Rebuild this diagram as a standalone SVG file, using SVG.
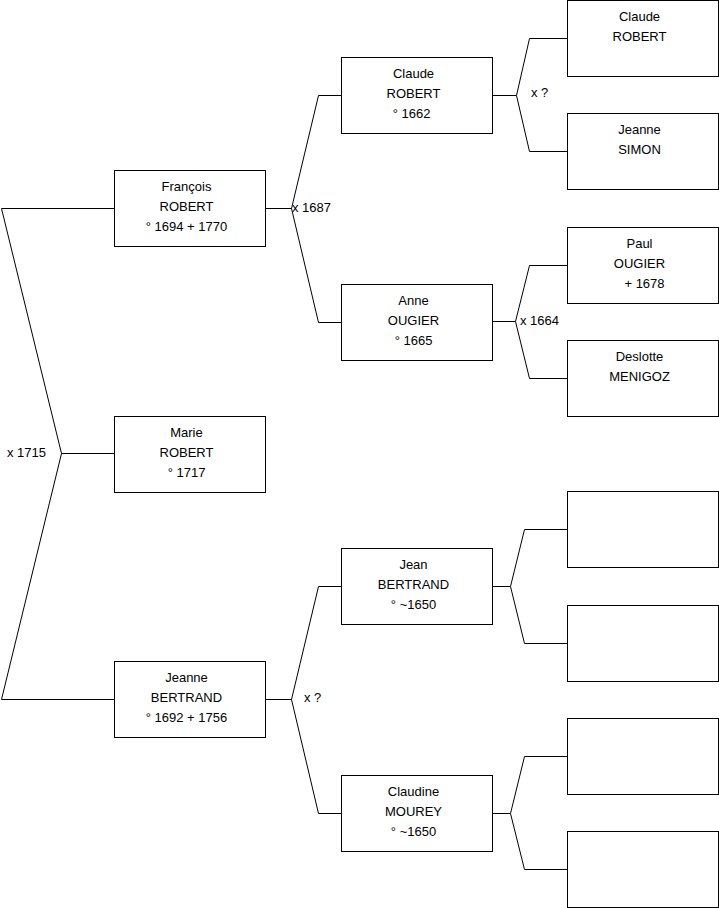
<svg xmlns="http://www.w3.org/2000/svg" width="719" height="908" viewBox="0 0 719 908">
<style>
.box{fill:#fff;stroke:#000;stroke-width:1}
.ln{fill:none;stroke:#000;stroke-width:1}
text{font-family:"Liberation Sans",Arial,sans-serif;font-size:13px;fill:#000}
.c{text-anchor:middle}
</style>
<rect x="0" y="0" width="719" height="908" fill="#fff"/>
<g id="connectors">
<polyline class="ln" points="114.5,208.5 1.5,208.5 61.5,453.5 1.5,699.5 114.5,699.5"/>
<line class="ln" x1="61.5" y1="453.5" x2="114.5" y2="453.5"/>
<line class="ln" x1="265.5" y1="208.5" x2="291.5" y2="208.5"/>
<polyline class="ln" points="341.5,95.5 318.5,95.5 291.5,208.5 318.5,322.5 341.5,322.5"/>
<line class="ln" x1="492.5" y1="95.5" x2="516.5" y2="95.5"/>
<polyline class="ln" points="567.5,38.5 529.5,38.5 516.5,95.5 529.5,151.5 567.5,151.5"/>
<line class="ln" x1="492.5" y1="321.5" x2="515.5" y2="321.5"/>
<polyline class="ln" points="567.5,265.5 529.5,265.5 515.5,321.5 529.5,378.5 567.5,378.5"/>
<line class="ln" x1="265.5" y1="699.5" x2="291.5" y2="699.5"/>
<polyline class="ln" points="341.5,586.5 318.5,586.5 291.5,699.5 318.5,813.5 341.5,813.5"/>
<line class="ln" x1="492.5" y1="586.5" x2="510.5" y2="586.5"/>
<polyline class="ln" points="567.5,529.5 524.5,529.5 510.5,586.5 524.5,643.5 567.5,643.5"/>
<line class="ln" x1="492.5" y1="813.5" x2="510.5" y2="813.5"/>
<polyline class="ln" points="567.5,756.5 524.5,756.5 510.5,813.5 524.5,869.5 567.5,869.5"/>
<text x="7" y="457">x 1715</text>
<text x="292" y="212">x 1687</text>
<text x="531" y="97">x ?</text>
<text x="520" y="325">x 1664</text>
<text x="304" y="702">x ?</text>
</g>
<g id="francois">
<rect class="box" x="114.5" y="170.5" width="151" height="76"/>
<text class="c" x="186.5" y="191">François</text>
<text class="c" x="186.5" y="211">ROBERT</text>
<text class="c" x="186.5" y="231">° 1694 + 1770</text>
</g>
<g id="marie">
<rect class="box" x="114.5" y="416.5" width="151" height="76"/>
<text class="c" x="186.5" y="437">Marie</text>
<text class="c" x="186.5" y="457">ROBERT</text>
<text class="c" x="186.5" y="477">° 1717</text>
</g>
<g id="jeanne-bertrand">
<rect class="box" x="114.5" y="661.5" width="151" height="76"/>
<text class="c" x="186.5" y="682">Jeanne</text>
<text class="c" x="186.5" y="702">BERTRAND</text>
<text class="c" x="186.5" y="722">° 1692 + 1756</text>
</g>
<g id="claude-robert-1662">
<rect class="box" x="341.5" y="57.5" width="151" height="76"/>
<text class="c" x="413.5" y="78">Claude</text>
<text class="c" x="413.5" y="98">ROBERT</text>
<text class="c" x="411.5" y="118">° 1662</text>
</g>
<g id="anne-ougier">
<rect class="box" x="341.5" y="284.5" width="151" height="76"/>
<text class="c" x="413.5" y="305">Anne</text>
<text class="c" x="413.5" y="325">OUGIER</text>
<text class="c" x="413.5" y="345">° 1665</text>
</g>
<g id="jean-bertrand">
<rect class="box" x="341.5" y="548.5" width="151" height="76"/>
<text class="c" x="413.5" y="569">Jean</text>
<text class="c" x="413.5" y="589">BERTRAND</text>
<text class="c" x="413.5" y="609">° ~1650</text>
</g>
<g id="claudine-mourey">
<rect class="box" x="341.5" y="775.5" width="151" height="76"/>
<text class="c" x="413.5" y="796">Claudine</text>
<text class="c" x="413.5" y="816">MOUREY</text>
<text class="c" x="413.5" y="836">° ~1650</text>
</g>
<g id="claude-robert">
<rect class="box" x="567.5" y="0.5" width="151" height="76"/>
<text class="c" x="639.5" y="21">Claude</text>
<text class="c" x="639.5" y="41">ROBERT</text>
</g>
<g id="jeanne-simon">
<rect class="box" x="567.5" y="113.5" width="151" height="76"/>
<text class="c" x="639.5" y="134">Jeanne</text>
<text class="c" x="639.5" y="154">SIMON</text>
</g>
<g id="paul-ougier">
<rect class="box" x="567.5" y="227.5" width="151" height="76"/>
<text class="c" x="639.5" y="248">Paul</text>
<text class="c" x="639.5" y="268">OUGIER</text>
<text class="c" x="644.5" y="288">+ 1678</text>
</g>
<g id="deslotte-menigoz">
<rect class="box" x="567.5" y="340.5" width="151" height="76"/>
<text class="c" x="639.5" y="361">Deslotte</text>
<text class="c" x="639.5" y="381">MENIGOZ</text>
</g>
<g id="empty-1"><rect class="box" x="567.5" y="491.5" width="151" height="76"/></g>
<g id="empty-2"><rect class="box" x="567.5" y="605.5" width="151" height="76"/></g>
<g id="empty-3"><rect class="box" x="567.5" y="718.5" width="151" height="76"/></g>
<g id="empty-4"><rect class="box" x="567.5" y="831.5" width="151" height="76"/></g>
</svg>
